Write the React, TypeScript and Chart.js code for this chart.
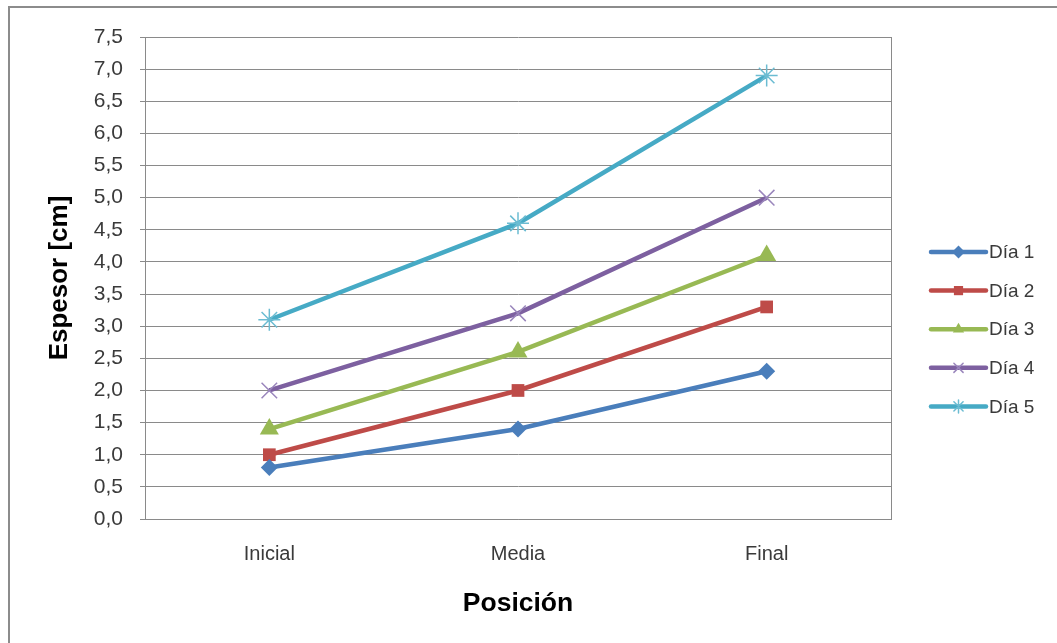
import { useEffect, useRef } from "react";
import { Chart, registerables } from "chart.js";

Chart.register(...registerables);

// Positions along the sample and measured thickness per day (cm)
const positions = ["Inicial", "Media", "Final"];
const dia1 = [0.8, 1.4, 2.3];
const dia2 = [1.0, 2.0, 3.3];
const dia3 = [1.4, 2.6, 4.1];
const dia4 = [2.0, 3.2, 5.0];
const dia5 = [3.1, 4.6, 6.9];

const seriesNames = ["Día 1", "Día 2", "Día 3", "Día 4", "Día 5"];
const seriesValues = [dia1, dia2, dia3, dia4, dia5];
const seriesColors = ["#4A7EBB", "#BE4B48", "#98B954", "#7D60A0", "#46AAC5"];
const markerColors = ["#4A7EBB", "#BE4B48", "#98B954", "#9A86BC", "#6BBCD2"];
const markerStyles = ["rectRot", "rect", "triangle", "crossRot", "star"];
const markerRadius = [8.5, 9, 11, 11, 11];

const FONT = "'Liberation Sans', Arial, sans-serif";
const GRID = "#8a8a8a";

function drawMarker(
  ctx: CanvasRenderingContext2D,
  style: string,
  x: number,
  y: number,
  r: number,
  color: string
) {
  ctx.save();
  ctx.fillStyle = color;
  ctx.strokeStyle = color;
  ctx.lineWidth = 1.5;
  ctx.beginPath();
  if (style === "rectRot") {
    ctx.moveTo(x, y - r);
    ctx.lineTo(x + r, y);
    ctx.lineTo(x, y + r);
    ctx.lineTo(x - r, y);
    ctx.closePath();
    ctx.fill();
  } else if (style === "rect") {
    const s = r * Math.SQRT1_2;
    ctx.rect(x - s, y - s, 2 * s, 2 * s);
    ctx.fill();
  } else if (style === "triangle") {
    for (let i = 0; i < 3; i++) {
      const a = (i * 2 * Math.PI) / 3;
      const px = x + Math.sin(a) * r;
      const py = y - Math.cos(a) * r;
      if (i === 0) ctx.moveTo(px, py);
      else ctx.lineTo(px, py);
    }
    ctx.closePath();
    ctx.fill();
  } else {
    const d = r * Math.SQRT1_2;
    ctx.moveTo(x - d, y - d);
    ctx.lineTo(x + d, y + d);
    ctx.moveTo(x - d, y + d);
    ctx.lineTo(x + d, y - d);
    if (style === "star") {
      ctx.moveTo(x, y - r);
      ctx.lineTo(x, y + r);
    }
    ctx.stroke();
  }
  ctx.restore();
}

// Outer frame, plot-area right edge and the line+marker legend
const framePlugin = {
  id: "frameAndLegend",
  beforeDraw(chart: any) {
    const ctx = chart.ctx as CanvasRenderingContext2D;
    ctx.save();
    ctx.fillStyle = "#ffffff";
    ctx.fillRect(0, 0, chart.width, chart.height);
    ctx.strokeStyle = "#8c8c8c";
    ctx.lineWidth = 2;
    ctx.strokeRect(9, 7, chart.width + 50, chart.height + 50);
    ctx.restore();
  },
  beforeDatasetsDraw(chart: any) {
    const ctx = chart.ctx as CanvasRenderingContext2D;
    const { top, bottom, right } = chart.chartArea;
    ctx.save();
    ctx.strokeStyle = GRID;
    ctx.lineWidth = 1;
    ctx.beginPath();
    ctx.moveTo(Math.round(right) + 0.5, top);
    ctx.lineTo(Math.round(right) + 0.5, bottom);
    ctx.stroke();
    ctx.restore();
  },
  afterDraw(chart: any) {
    const ctx = chart.ctx as CanvasRenderingContext2D;
    const x0 = 931;
    const x1 = 986;
    ctx.save();
    seriesNames.forEach((name, i) => {
      const y = 252 + i * 38.6;
      ctx.strokeStyle = seriesColors[i];
      ctx.lineWidth = 4.5;
      ctx.lineCap = "round";
      ctx.beginPath();
      ctx.moveTo(x0, y);
      ctx.lineTo(x1, y);
      ctx.stroke();
      drawMarker(ctx, markerStyles[i], (x0 + x1) / 2, y, 6.5, markerColors[i]);
      ctx.fillStyle = "#3a3a3a";
      ctx.font = `19px ${FONT}`;
      ctx.textAlign = "left";
      ctx.textBaseline = "middle";
      ctx.fillText(name, 989, y + 1);
    });
    ctx.restore();
  },
};

export default function App() {
  const canvasRef = useRef<HTMLCanvasElement | null>(null);

  useEffect(() => {
    if (!canvasRef.current) return;
    const chart = new Chart(canvasRef.current, {
      type: "line",
      data: {
        labels: positions,
        datasets: seriesNames.map((name, i) => ({
          label: name,
          data: seriesValues[i],
          borderColor: seriesColors[i],
          backgroundColor: markerColors[i],
          pointBackgroundColor: markerColors[i],
          pointBorderColor: markerColors[i],
          borderWidth: 4.5,
          pointStyle: markerStyles[i] as any,
          pointRadius: markerRadius[i],
          pointBorderWidth: i >= 3 ? 1.5 : 0,
          tension: 0,
          fill: false,
        })),
      },
      options: {
        responsive: false,
        animation: false,
        devicePixelRatio: 1,
        layout: { padding: { left: 0, top: 37, right: 166, bottom: 0 } },
        plugins: {
          legend: { display: false },
          tooltip: { enabled: false },
        },
        scales: {
          x: {
            type: "category",
            offset: true,
            grid: { display: false, drawTicks: false },
            border: { display: true, color: GRID, width: 1 },
            ticks: {
              color: "#3a3a3a",
              font: { family: FONT, size: 20 },
              padding: 23,
            },
            title: {
              display: true,
              text: "Posición",
              color: "#000000",
              font: { family: FONT, size: 26.5, weight: "bold" },
              padding: { top: 0, bottom: 23 },
            },
            afterFit(scale: any) {
              scale.height = 124;
            },
          },
          y: {
            min: 0,
            max: 7.5,
            grid: {
              color: GRID,
              lineWidth: 1,
              drawTicks: true,
              tickLength: 5,
              tickColor: GRID,
            },
            border: { display: true, color: GRID, width: 1 },
            ticks: {
              stepSize: 0.5,
              color: "#3a3a3a",
              font: { family: FONT, size: 21 },
              padding: 17,
              callback: (v: any) => Number(v).toFixed(1).replace(".", ","),
            },
            title: {
              display: true,
              text: "Espesor [cm]",
              color: "#000000",
              font: { family: FONT, size: 26, weight: "bold" },
              padding: { top: 44, bottom: 0 },
            },
            afterFit(scale: any) {
              scale.width = 145;
            },
          },
        },
      },
      plugins: [framePlugin],
    });
    return () => chart.destroy();
  }, []);

  return (
    <div style={{ position: "fixed", left: 0, top: 0, width: 1057, height: 643 }}>
      <canvas ref={canvasRef} width={1057} height={643} />
    </div>
  );
}
